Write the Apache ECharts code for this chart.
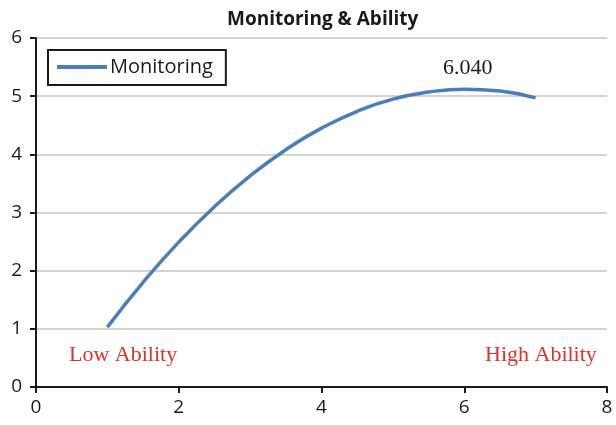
<!DOCTYPE html>
<html>
<head>
<meta charset="utf-8">
<script src="https://cdn.jsdelivr.net/npm/echarts@6/dist/echarts.min.js"></script>
<style>html,body{margin:0;padding:0;background:#fff}#c{width:616px;height:425px}</style>
</head>
<body>
<div id="c"></div>
<script>
const seriesName = 'Monitoring';
const abilityX = [1, 1.5, 2, 2.5, 3, 3.5, 4, 4.5, 5, 5.5, 6, 6.5, 7];
const monitoringY = [1.03, 1.80, 2.49, 3.10, 3.63, 4.08, 4.45, 4.74, 4.95, 5.07, 5.12, 5.09, 4.97];
const peakLabel = '6.040';
const lowLabel = 'Low Ability';
const highLabel = 'High Ability';
const titleText = 'Monitoring & Ability';

const chart = echarts.init(document.getElementById('c'), null, {renderer: 'canvas'});
const axisCol = '#1a1a1a';
const serif = '"Liberation Serif", "DejaVu Serif", serif';
chart.setOption({
  animation: false,
  title: {
    text: titleText, left: 222, top: 5,
    textStyle: {fontFamily: 'Open Sans', fontWeight: 'bold', fontSize: 19, color: '#1a1a1a'}
  },
  legend: {
    left: 48, top: 50,
    data: [seriesName],
    icon: 'rect', itemWidth: 50, itemHeight: 4,
    padding: [7, 13, 8, 9],
    borderColor: '#1a1a1a', borderWidth: 2,
    textStyle: {fontFamily: 'Open Sans', fontSize: 20, color: '#1a1a1a', padding: [0, 0, 0, -2]}
  },
  grid: {left: 36, right: 9, top: 38, bottom: 38, containLabel: false},
  xAxis: {
    type: 'value', min: 0, max: 8, interval: 2,
    axisLine: {show: true, onZero: false, lineStyle: {color: axisCol, width: 2}},
    axisTick: {show: true, length: 6, lineStyle: {color: axisCol, width: 2}},
    axisLabel: {margin: 11, fontFamily: 'Open Sans', fontSize: 19, color: '#1a1a1a'},
    splitLine: {show: false}
  },
  yAxis: {
    type: 'value', min: 0, max: 6, interval: 1,
    axisLine: {show: true, lineStyle: {color: axisCol, width: 2}},
    axisTick: {show: true, length: 6, lineStyle: {color: axisCol, width: 2}},
    axisLabel: {margin: 14, fontFamily: 'Open Sans', fontSize: 19, color: '#1a1a1a'},
    splitLine: {show: true, lineStyle: {color: '#c4c4c4', width: 1.5}}
  },
  graphic: [
    {type: 'text', left: 443, top: 57, style: {text: peakLabel, font: '22px ' + serif, fill: '#1a1a1a'}},
    {type: 'text', left: 69, top: 344, style: {text: lowLabel, font: '22px ' + serif, fill: '#e0312b'}},
    {type: 'text', left: 485, top: 344, style: {text: highLabel, font: '22px ' + serif, fill: '#e0312b'}}
  ],
  series: [{
    name: seriesName, type: 'line', smooth: true, showSymbol: false, symbol: 'none',
    data: abilityX.map((x, i) => [x, monitoringY[i]]),
    lineStyle: {color: '#4a7ebb', width: 3.5},
    itemStyle: {color: '#4a7ebb'}
  }]
});
</script>
</body>
</html>
